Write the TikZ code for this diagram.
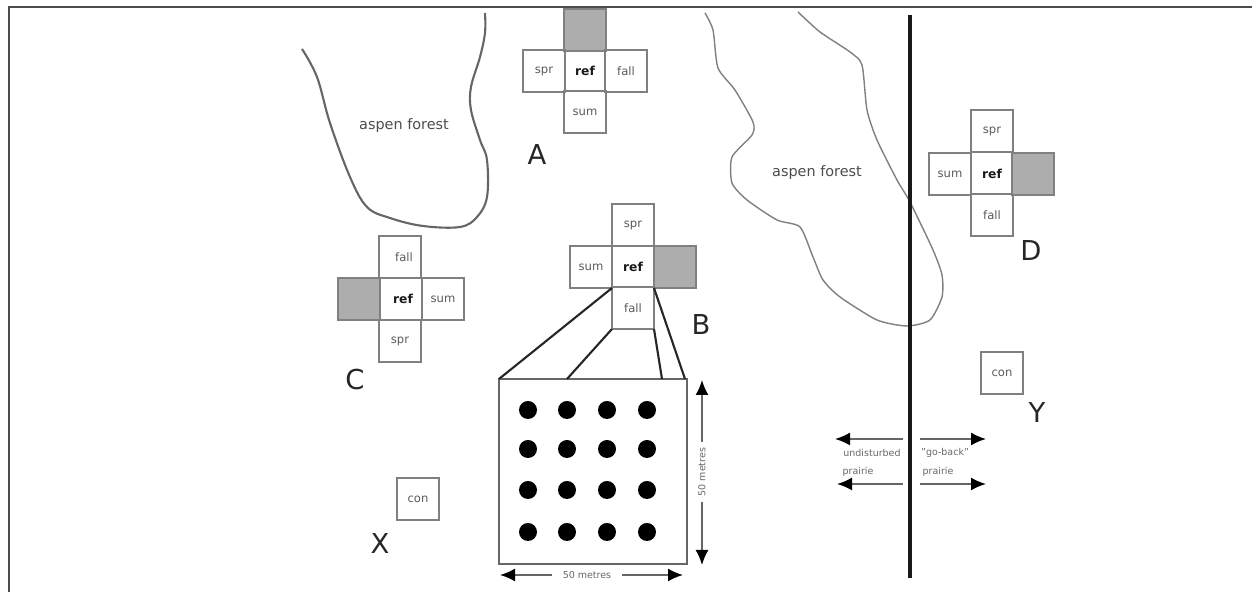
\documentclass[tikz,border=0pt]{standalone}
\usepackage{fontspec}
\setmainfont{DejaVu Sans}
\usetikzlibrary{arrows.meta}
\tikzset{
  cell/.style={draw=black!50, line width=0.55pt, minimum size=0.42cm, inner sep=0pt, outer sep=0pt, text=black!65, font=\fontsize{3.3}{4}\selectfont},
  refcell/.style={cell, draw=none, text=black!90, font=\fontsize{3.5}{4}\selectfont\bfseries},
  graycell/.style={cell, fill=black!32},
  letter/.style={inner sep=0pt, text=black!85, font=\fontsize{7.8}{9}\selectfont},
  small/.style={inner sep=0pt, text=black!60, font=\fontsize{2.7}{3}\selectfont},
  forest/.style={black!60, line width=0.6pt},
  dimarrow/.style={black!60, line width=0.5pt, -{Latex[black,length=0.15cm,width=0.13cm]}}
}
\begin{document}
\begin{tikzpicture}
\useasboundingbox (0,0) rectangle (12.52,5.92);
% frame
\draw[black!70, line width=0.5pt] (0.09,0) -- (0.09,5.85) -- (12.52,5.85);
% forests
\draw[forest] plot[smooth,tension=0.6] coordinates {(3.02,5.43) (3.17,5.15) (3.30,4.69) (3.50,4.15) (3.67,3.85) (3.90,3.74) (4.23,3.66) (4.60,3.65) (4.77,3.75) (4.87,3.95) (4.87,4.32) (4.80,4.52) (4.71,4.82) (4.71,5.05) (4.80,5.35) (4.85,5.59) (4.85,5.79)};
\draw[forest, black!50, line width=0.4pt] plot[smooth,tension=0.4] coordinates {(7.05,5.79) (7.13,5.62) (7.18,5.24) (7.35,5.02) (7.53,4.70) (7.52,4.57) (7.32,4.35) (7.32,4.09) (7.47,3.92) (7.77,3.72) (8.00,3.65) (8.13,3.35) (8.23,3.12) (8.40,2.95) (8.77,2.72) (9.07,2.66) (9.30,2.72) (9.42,2.95) (9.42,3.17) (9.33,3.42) (9.10,3.90) (8.97,4.12) (8.77,4.52) (8.67,4.82) (8.62,5.27) (8.50,5.40) (8.20,5.60) (7.98,5.80)};
\node[inner sep=0pt, text=black!70, font=\fontsize{4.1}{5}\selectfont] (forestl) at (4.04,4.66) {aspen forest};
\node[inner sep=0pt, text=black!70, font=\fontsize{4.1}{5}\selectfont] (forestr) at (8.17,4.19) {aspen forest};
% fence
\coordinate (fencetop) at (9.10,5.77);
\coordinate (fencebot) at (9.10,0.14);
\draw[line width=1pt, black!90] (fencetop) -- (fencebot);
% cross A
\node[graycell] (agray) at (5.85,5.62) {};
\node[cell] (aspr) at (5.44,5.21) {spr};
\node[cell] (afall) at (6.26,5.21) {fall};
\node[cell] (asum) at (5.85,4.80) {sum};
\node[refcell] (aref) at (5.85,5.21) {ref};
% cross B
\node[cell] (bspr) at (6.33,3.67) {spr};
\node[cell] (bsum) at (5.91,3.25) {sum};
\node[graycell] (bgray) at (6.75,3.25) {};
\node[cell] (bfall) at (6.33,2.84) {fall};
\node[refcell] (bref) at (6.33,3.25) {ref};
% cross C
\node[cell] (cfall) at (4.00,3.35) {\hspace{0.08cm}fall};
\node[cell] (cspr) at (4.00,2.51) {spr};
\node[graycell] (cgray) at (3.59,2.93) {};
\node[cell] (csum) at (4.43,2.93) {sum};
\node[refcell] (cref) at (4.00,2.93) {\hspace{0.06cm}ref};
% cross D
\node[cell] (dspr) at (9.92,4.61) {spr};
\node[cell] (dfall) at (9.92,3.77) {fall};
\node[cell] (dsum) at (9.50,4.18) {sum};
\node[graycell] (dgray) at (10.33,4.18) {};
\node[refcell] (dref) at (9.92,4.18) {ref};
% controls
\node[cell] (conx) at (4.18,0.93) {con};
\node[cell] (cony) at (10.02,2.19) {con};
% letters
\node[letter] (la) at (5.37,4.37) {A};
\node[letter] (lb) at (7.01,2.67) {B};
\node[letter] (lc) at (3.55,2.12) {C};
\node[letter] (ld) at (10.31,3.41) {D};
\node[letter] (lx) at (3.80,0.48) {X};
\node[letter] (ly) at (10.37,1.79) {Y};
% plot with sampling points
\node[draw=black!60, line width=0.7pt, minimum width=1.88cm, minimum height=1.85cm, inner sep=0pt, outer sep=0pt] (plot) at (5.93,1.205) {};
\foreach \x in {5.28,5.67,6.07,6.47}
  \foreach \y in {1.82,1.43,1.02,0.60}
    \fill[black] (\x,\y) circle (0.09);
\coordinate (plota) at (5.67,2.13);
\coordinate (plotb) at (6.62,2.13);
\coordinate (plotc) at (6.85,2.13);
\draw[black!85, line width=0.6pt] (bref.south west) -- (plot.north west);
\draw[black!85, line width=0.6pt] (bfall.south west) -- (plota);
\draw[black!85, line width=0.6pt] (bfall.south east) -- (plotb);
\draw[black!85, line width=0.6pt] (bref.south east) -- (plotc);
% dimensions
\node[small] (dimh) at (5.87,0.17) {50 metres};
\coordinate (dimhl) at (5.00,0.17);
\coordinate (dimhr) at (6.83,0.17);
\draw[dimarrow] (dimh.west) ++(-0.1,0) -- (dimhl);
\draw[dimarrow] (dimh.east) ++(0.1,0) -- (dimhr);
\node[small, rotate=90] (dimv) at (7.02,1.20) {50 metres};
\coordinate (dimvt) at (7.02,2.12);
\coordinate (dimvb) at (7.02,0.27);
\draw[dimarrow] (dimv.east) ++(0,0.05) -- (dimvt);
\draw[dimarrow] (dimv.west) ++(0,-0.05) -- (dimvb);
% prairie labels
\node[small] (undist) at (8.72,1.39) {undisturbed};
\node[small] (prail) at (8.58,1.20) {prairie};
\node[small] (goback) at (9.45,1.39) {"go-back"};
\node[small] (prair) at (9.38,1.20) {prairie};
\coordinate (ula) at (9.03,1.53);
\coordinate (ulb) at (8.35,1.53);
\coordinate (dla) at (9.03,1.08);
\coordinate (dlb) at (8.37,1.08);
\coordinate (ura) at (9.20,1.53);
\coordinate (urb) at (9.86,1.53);
\coordinate (dra) at (9.20,1.08);
\coordinate (drb) at (9.86,1.08);
\draw[dimarrow] (ula) -- (ulb);
\draw[dimarrow] (dla) -- (dlb);
\draw[dimarrow] (ura) -- (urb);
\draw[dimarrow] (dra) -- (drb);
\end{tikzpicture}
\end{document}
